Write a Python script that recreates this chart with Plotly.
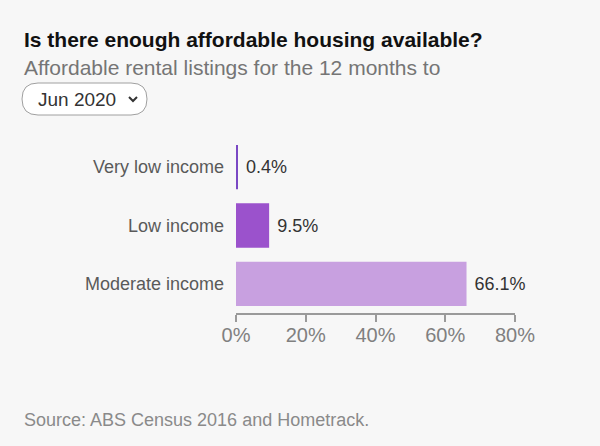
import plotly.graph_objects as go

categories = ["Very low income", "Low income", "Moderate income"]
shares = [0.4, 9.5, 66.1]
bar_colors = ["#7a48c4", "#9b52cc", "#c8a0e0"]
tick_vals = [0, 20, 40, 60, 80]
tick_text = ["0%", "20%", "40%", "60%", "80%"]

title = "Is there enough affordable housing available?"
subtitle = "Affordable rental listings for the 12 months to"
period = "Jun 2020"
source = "Source: ABS Census 2016 and Hometrack."

font = "Liberation Sans, Arial, sans-serif"

fig = go.Figure()
fig.add_trace(go.Bar(
    x=shares, y=categories, orientation="h",
    marker=dict(color=bar_colors, line=dict(width=0)),
    text=[f"&nbsp;{v}%" for v in shares], textposition="outside",
    textfont=dict(family=font, size=18, color="#333333"),
    cliponaxis=False, hoverinfo="skip",
))

fig.update_layout(
    width=600, height=446,
    margin=dict(l=236, r=85, t=138, b=133),
    paper_bgcolor="#f7f7f7", plot_bgcolor="#f7f7f7",
    bargap=0.24, showlegend=False,
    font=dict(family=font),
)
fig.update_yaxes(
    autorange="reversed", showgrid=False, zeroline=False, showline=False,
    ticks="", ticklabelstandoff=11,
    tickfont=dict(family=font, size=18, color="#5a5a5a"),
)
fig.update_xaxes(
    range=[0, 80], tickvals=tick_vals, ticktext=tick_text,
    showgrid=False, zeroline=False, showline=True, linecolor="#9a9a9a", linewidth=2,
    ticks="outside", ticklen=7, tickwidth=2, tickcolor="#9a9a9a",
    ticklabelstandoff=-4,
    tickfont=dict(family=font, size=20, color="#808080"),
)


# pixel position on the page -> paper coords
def px(x, y):
    return (x - 236) / 279, (313 - y) / 175


fig.add_annotation(text=f"<b>{title}</b>", xref="paper", yref="paper",
                   x=px(22, 0)[0], y=px(0, 40)[1], xanchor="left", yanchor="middle",
                   showarrow=False, font=dict(size=21, color="#111111"))
fig.add_annotation(text=subtitle, xref="paper", yref="paper",
                   x=px(22, 0)[0], y=px(0, 67)[1], xanchor="left", yanchor="middle",
                   showarrow=False, font=dict(size=21, color="#757575"))

# dropdown look-alike
bx0, bx1, by0, by1, r = 22, 147, 83, 115, 16
ym = (by0 + by1) / 2
path = (
    f"M {px(bx0 + r, 0)[0]},{px(0, by0)[1]} L {px(bx1 - r, 0)[0]},{px(0, by0)[1]} "
    f"Q {px(bx1, 0)[0]},{px(0, by0)[1]} {px(bx1, 0)[0]},{px(0, ym)[1]} "
    f"Q {px(bx1, 0)[0]},{px(0, by1)[1]} {px(bx1 - r, 0)[0]},{px(0, by1)[1]} "
    f"L {px(bx0 + r, 0)[0]},{px(0, by1)[1]} "
    f"Q {px(bx0, 0)[0]},{px(0, by1)[1]} {px(bx0, 0)[0]},{px(0, ym)[1]} "
    f"Q {px(bx0, 0)[0]},{px(0, by0)[1]} {px(bx0 + r, 0)[0]},{px(0, by0)[1]} Z"
)
fig.add_shape(type="path", path=path, xref="paper", yref="paper",
              line=dict(color="#a0a0a0", width=1), fillcolor="#ffffff")
c0, c1, c2 = px(129, 97), px(133, 101), px(137, 97)
fig.add_shape(type="path", xref="paper", yref="paper",
              path=f"M {c0[0]},{c0[1]} L {c1[0]},{c1[1]} L {c2[0]},{c2[1]}",
              line=dict(color="#333333", width=2))
fig.add_annotation(text=period, xref="paper", yref="paper",
                   x=px(36, 0)[0], y=px(0, 99)[1], xanchor="left", yanchor="middle",
                   showarrow=False, font=dict(size=19, color="#333333"))

fig.add_annotation(text=source, xref="paper", yref="paper",
                   x=px(22, 0)[0], y=px(0, 420)[1], xanchor="left", yanchor="middle",
                   showarrow=False, font=dict(size=18, color="#8a8a8a"))

fig.write_html("out.html", config={"displayModeBar": False},
               post_script="document.body.style.margin='0';"
                           "document.body.style.background='#f7f7f7';")
